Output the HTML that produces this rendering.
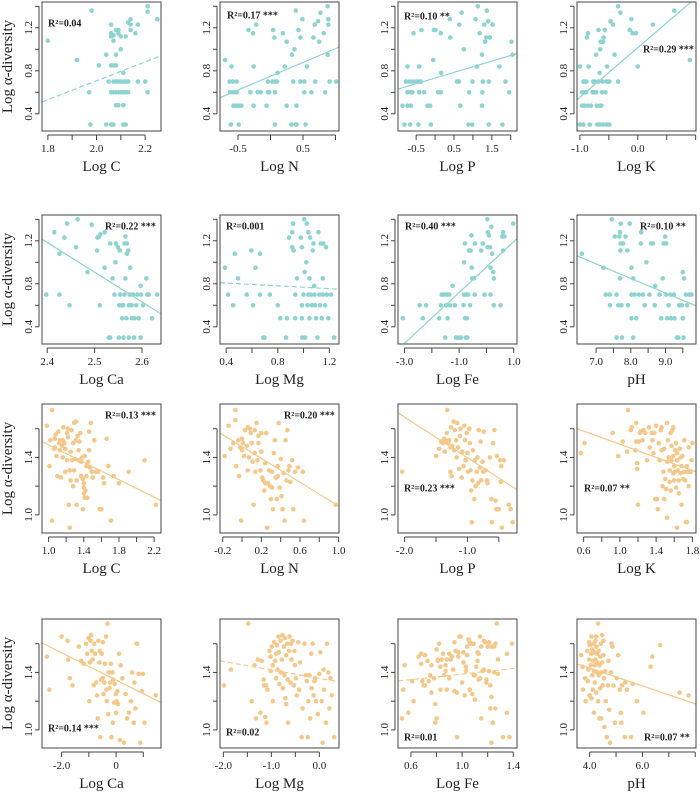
<!DOCTYPE html>
<html><head><meta charset="utf-8"><title>Log alpha-diversity scatter panels</title>
<style>
html,body{margin:0;padding:0;background:#fff;}
svg{display:block;font-family:"Liberation Serif",serif;}
</style></head>
<body>
<svg id="chart" width="700" height="793" viewBox="0 0 700 793" xmlns="http://www.w3.org/2000/svg"></svg>
<script>
// ---- data (one pair of arrays per panel) ----
const c1x=[1.80,1.92,1.98,2.01,1.97,1.975,2.04,2.06,2.07,2.11,2.12,2.04,2.06,2.06,2.06,2.07,2.07,2.08,2.09,2.09,2.10,2.08,2.06,2.07,2.08,2.10,2.05,2.07,2.08,2.09,2.10,2.11,2.12,2.13,2.06,2.07,2.08,2.09,2.10,2.11,2.12,2.13,2.08,2.09,2.11,2.11,2.12,2.13,2.14,2.14,2.14,2.16,2.17,2.17,2.20,2.21,2.21,2.21,2.25];
const c1y=[1.08,0.90,1.36,0.85,0.60,0.30,0.30,0.30,0.30,0.30,0.30,0.95,1.23,1.15,1.12,1.08,1.13,1.18,1.18,1.15,1.12,0.95,0.85,0.85,0.85,1.0,0.70,0.70,0.70,0.70,0.70,0.70,0.70,0.70,0.60,0.60,0.60,0.60,0.60,0.60,0.60,0.60,0.48,0.48,0.48,0.78,1.12,1.25,1.28,1.23,1.18,1.15,1.23,0.70,0.70,0.60,1.35,1.40,1.28];
const c2x=[-0.70,-0.63,-0.58,-0.60,-0.62,-0.57,-0.52,-0.61,-0.49,-0.57,-0.53,-0.49,-0.45,-0.52,-0.34,-0.27,-0.22,-0.31,-0.26,-0.26,-0.20,-0.15,-0.06,-0.04,-0.04,-0.02,0.03,0.04,0.06,0.07,0.07,0.07,0.11,0.10,0.19,0.25,0.22,0.25,0.33,0.37,0.32,0.39,0.35,0.39,0.40,0.40,0.43,0.46,0.46,0.52,0.49,0.52,0.54,0.56,0.63,0.66,0.68,0.73,0.69,0.75,0.77,0.82,0.84,0.88,0.89,0.89,0.88,0.91,1.01];
const c2y=[0.90,0.70,0.70,0.84,0.60,0.60,0.60,0.30,0.30,0.475,0.475,0.475,0.475,0.70,1.18,1.15,1.23,0.60,0.84,0.475,0.60,0.60,0.475,0.60,0.70,0.60,0.70,1.18,1.11,0.70,0.60,0.30,0.78,0.70,1.15,1.07,0.84,0.475,0.95,1.0,0.30,0.30,0.70,1.36,0.475,0.30,1.18,1.11,0.70,0.70,1.28,0.60,0.30,0.84,0.60,1.11,1.23,1.26,0.70,1.07,1.34,1.15,0.60,0.95,1.23,1.28,1.40,0.70,0.70];
const c3x=[-0.86,-0.73,-0.77,-0.68,-0.60,-0.51,-0.42,-0.73,-0.64,-0.60,-0.73,-0.64,-0.81,-0.66,-0.57,-0.48,-0.38,-0.42,-0.42,-0.44,-0.36,-0.29,-0.20,-0.13,-0.11,-0.05,-0.03,0.01,0.08,0.15,0.15,0.16,0.39,0.40,0.58,0.63,0.64,0.67,0.70,0.76,0.90,0.88,0.98,0.99,1.07,1.11,1.18,1.24,1.25,1.24,1.26,1.30,1.32,1.35,1.37,1.40,1.42,1.42,1.45,1.52,1.70,1.78,1.86,1.96,2.02,2.05,1.13];
const c3y=[0.475,0.84,0.70,0.70,0.70,0.70,0.70,0.60,0.60,0.60,0.475,0.475,0.30,0.30,1.15,0.70,0.70,0.84,0.60,0.30,1.18,0.60,0.475,0.475,0.30,0.90,1.18,1.18,0.60,0.60,1.15,0.78,1.28,1.11,0.70,0.70,1.23,0.475,1.34,1.0,0.60,0.30,0.30,0.70,1.28,0.84,1.15,0.95,0.60,0.475,0.70,1.23,1.07,1.11,1.36,1.26,0.70,0.30,1.11,1.23,0.84,0.30,0.70,0.60,1.07,0.95,1.40];
const c4x=[-1.0,-1.0,-0.96,-0.94,-0.94,-0.91,-0.89,-0.91,-0.89,-0.88,-0.86,-0.85,-0.83,-0.81,-0.77,-0.74,-0.72,-0.71,-0.72,-0.68,-0.68,-0.66,-0.65,-0.64,-0.62,-0.61,-0.60,-0.59,-0.57,-0.56,-0.54,-0.54,-0.53,-0.51,-0.49,-0.49,-0.47,-0.43,-0.40,-0.34,-0.34,-0.30,-0.14,-0.11,-0.09,-0.03,0.0,0.26,0.63,0.90,-0.96,-0.92,-0.86,-0.78,-0.75,-0.70,-0.66,-0.60,-0.65,-0.63];
const c4y=[0.84,0.30,0.475,0.30,0.70,0.70,0.70,0.60,0.60,1.11,1.15,0.84,0.30,0.475,0.70,0.70,0.60,0.475,0.95,1.18,0.70,0.78,1.0,1.07,0.60,0.70,1.07,1.11,1.18,0.60,0.70,0.30,0.84,0.70,0.70,0.30,1.26,1.23,0.95,0.70,1.40,1.34,1.18,1.28,1.15,1.15,0.84,1.23,1.36,0.90,0.60,0.475,0.475,0.60,0.60,0.30,0.30,0.30,0.475,0.475];
const c5x=[2.398,2.415,2.426,2.426,2.436,2.442,2.447,2.461,2.464,2.485,2.494,2.505,2.506,2.509,2.511,2.512,2.521,2.521,2.533,2.538,2.542,2.544,2.545,2.549,2.553,2.552,2.554,2.530,2.533,2.551,2.558,2.558,2.560,2.561,2.563,2.563,2.565,2.565,2.567,2.568,2.568,2.571,2.572,2.572,2.574,2.575,2.578,2.579,2.581,2.583,2.584,2.588,2.590,2.593,2.597,2.597,2.598,2.602,2.609,2.611,2.614,2.621,2.632];
const c5y=[0.70,1.28,1.08,0.70,1.23,1.36,0.60,1.14,1.40,0.91,1.35,1.11,1.23,1.24,0.60,1.26,1.28,0.95,1.175,0.85,0.70,1.0,1.175,1.14,1.11,0.60,0.70,0.30,0.30,0.30,0.48,0.60,0.60,0.30,0.70,1.175,1.24,0.85,0.48,1.08,1.175,1.11,0.60,0.30,0.70,0.95,0.60,0.48,0.70,0.30,0.48,0.60,0.70,0.48,0.78,0.30,0.70,0.60,0.85,0.70,0.70,0.48,0.70];
const c6x=[0.39,0.415,0.454,0.467,0.492,0.559,0.595,0.608,0.628,0.662,0.662,0.687,0.697,0.738,0.80,0.82,0.872,0.864,0.887,0.913,0.913,0.918,0.923,0.936,0.949,0.936,0.979,0.987,0.987,0.987,0.99,1.0,1.005,1.008,1.013,1.021,1.026,1.031,1.038,1.038,1.046,1.046,1.051,1.056,1.064,1.072,1.077,1.082,1.085,1.09,1.097,1.108,1.115,1.123,1.128,1.133,1.141,1.149,1.149,1.154,1.167,1.174,1.18,1.192,1.213,1.238];
const c6y=[0.95,0.70,0.60,1.08,0.85,0.70,1.11,0.60,0.95,1.08,0.70,0.30,0.30,0.70,0.60,0.48,0.48,0.30,1.23,1.28,1.14,1.36,1.11,0.70,0.85,0.48,1.23,1.14,0.60,0.48,0.30,0.70,1.40,0.91,0.30,1.0,1.36,0.60,1.28,0.70,0.85,0.48,1.23,0.70,0.60,1.11,1.175,0.78,0.70,0.60,0.48,0.30,1.28,0.70,0.60,1.175,0.48,0.85,0.70,1.175,0.60,1.14,0.70,0.48,0.70,0.30];
const c7x=[-3.06,-2.45,-2.33,-2.21,-1.73,-1.67,-1.64,-1.55,-1.51,-1.48,-1.45,-1.42,-1.36,-1.33,-1.24,-1.16,-1.12,-1.04,-0.94,-0.84,-0.82,-0.82,-0.79,-0.78,-0.76,-0.72,-0.72,-0.70,-0.67,-0.64,-0.60,-0.58,-0.55,-0.54,-0.52,-0.45,-0.43,-0.42,-0.19,-0.13,-0.07,0.03,0.05,0.05,0.09,0.13,0.15,0.15,0.18,0.21,0.25,0.27,0.27,0.52,0.58,0.61,0.61,0.66,0.98];
const c7y=[0.48,0.60,0.48,0.60,0.48,0.60,0.70,0.70,0.30,0.60,0.70,0.48,0.70,0.60,0.78,0.60,0.30,0.30,0.30,0.60,1.0,0.70,1.175,0.48,0.30,0.70,0.48,0.30,0.70,1.11,0.60,1.11,1.25,0.95,0.85,0.85,0.70,1.175,1.11,1.175,0.70,1.40,1.28,1.14,1.25,1.14,0.70,0.95,1.33,1.08,0.91,0.85,0.60,0.60,1.24,1.28,1.11,1.24,1.36];
const c8x=[6.59,7.21,7.28,7.40,7.40,7.45,7.54,7.59,7.59,7.64,7.67,7.69,7.69,7.70,7.71,7.71,7.73,7.75,7.78,7.85,7.90,7.92,7.97,8.02,8.02,8.02,8.07,8.07,8.11,8.16,8.23,8.29,8.30,8.35,8.40,8.45,8.54,8.59,8.64,8.69,8.70,8.83,8.88,8.92,8.95,8.99,9.02,9.02,9.05,9.09,9.14,9.16,9.24,9.26,9.33,9.37,9.40,9.47,9.50,9.50,9.52,9.54,9.59,9.62,9.69,9.75];
const c8y=[1.08,0.95,0.70,0.70,0.60,1.40,1.24,0.70,0.30,0.60,1.24,0.85,1.28,1.11,1.175,1.36,0.60,0.30,1.175,1.24,1.11,0.60,1.36,0.95,0.70,0.48,0.85,0.30,0.70,0.48,0.70,1.175,1.28,0.70,0.60,1.0,0.70,1.175,1.175,0.60,0.78,0.70,0.48,0.85,1.175,1.24,1.175,0.70,0.48,0.60,0.70,0.48,0.70,0.48,0.30,0.30,0.60,0.60,0.91,0.48,0.30,0.85,0.70,0.60,0.70,0.70];
const c9x=[0.98,1.01,1.02,1.04,1.04,1.06,1.07,1.07,1.08,1.09,1.10,1.11,1.12,1.13,1.13,1.14,1.15,1.16,1.16,1.17,1.18,1.19,1.19,1.21,1.21,1.22,1.22,1.23,1.24,1.24,1.25,1.25,1.26,1.27,1.28,1.28,1.29,1.29,1.30,1.31,1.31,1.32,1.32,1.33,1.34,1.34,1.35,1.36,1.37,1.37,1.38,1.39,1.39,1.40,1.40,1.40,1.41,1.41,1.42,1.43,1.43,1.44,1.45,1.46,1.46,1.47,1.48,1.49,1.50,1.52,1.54,1.56,1.58,1.60,1.62,1.63,1.66,1.68,1.71,1.74,1.80,1.91,2.09,2.22];
const c9y=[1.62,1.34,1.52,1.73,0.96,1.46,1.53,1.47,1.56,1.41,1.27,1.58,1.50,1.52,1.45,1.26,1.48,1.52,1.40,1.61,1.50,1.30,1.46,1.57,1.38,1.60,1.54,1.07,1.31,0.91,1.44,1.24,1.59,1.38,1.20,1.50,1.64,1.31,1.39,1.65,1.52,1.07,1.24,1.55,1.38,1.45,1.51,1.57,1.27,1.37,1.40,1.04,1.25,1.22,1.19,1.15,1.41,1.12,1.17,1.34,1.27,1.12,1.37,1.58,1.45,1.33,1.64,1.30,1.26,1.52,1.30,1.30,1.04,1.04,1.26,1.22,1.53,1.34,0.96,1.27,1.22,1.30,1.38,1.07];
const c10x=[-0.18,-0.14,-0.12,-0.09,-0.07,-0.07,-0.06,-0.04,-0.03,-0.02,-0.01,0.0,0.0,0.01,0.02,0.03,0.05,0.06,0.06,0.07,0.08,0.09,0.10,0.11,0.12,0.13,0.13,0.14,0.15,0.16,0.17,0.17,0.19,0.20,0.20,0.21,0.22,0.23,0.24,0.24,0.25,0.26,0.27,0.28,0.29,0.30,0.31,0.31,0.32,0.33,0.34,0.35,0.36,0.37,0.37,0.38,0.39,0.40,0.41,0.42,0.43,0.44,0.45,0.46,0.47,0.48,0.49,0.50,0.52,0.53,0.55,0.58,0.63,0.64,0.97];
const c10y=[1.41,1.62,1.46,1.50,1.73,1.66,1.34,1.52,1.27,1.47,0.96,1.53,1.45,1.50,1.41,1.59,1.48,1.31,1.61,1.40,1.60,1.57,1.50,1.37,1.07,1.43,1.59,1.30,1.64,1.38,1.55,1.50,1.31,1.57,1.44,1.26,1.24,1.17,1.36,1.22,1.57,0.91,1.22,1.31,1.20,1.11,1.30,1.19,1.04,1.43,1.52,1.26,1.11,1.34,1.27,1.64,1.19,1.39,1.13,1.04,1.29,0.96,1.52,1.24,1.59,1.31,1.34,1.23,1.38,1.04,1.30,1.33,1.30,0.96,1.07];
const c11x=[-2.04,-1.50,-1.45,-1.42,-1.39,-1.37,-1.36,-1.34,-1.33,-1.32,-1.31,-1.29,-1.27,-1.27,-1.26,-1.25,-1.24,-1.22,-1.21,-1.20,-1.18,-1.17,-1.16,-1.15,-1.13,-1.12,-1.11,-1.09,-1.08,-1.06,-1.05,-1.04,-1.03,-1.01,-1.0,-0.99,-0.97,-0.96,-0.95,-0.94,-0.93,-0.92,-0.91,-0.89,-0.88,-0.87,-0.85,-0.84,-0.83,-0.82,-0.80,-0.79,-0.78,-0.76,-0.75,-0.74,-0.71,-0.69,-0.68,-0.64,-0.62,-0.61,-0.59,-0.57,-0.55,-0.54,-0.53,-0.52,-0.50,-0.48,-0.47,-0.46,-0.45,-0.42,-0.34,-0.31,-0.28];
const c11y=[1.30,1.41,1.46,1.51,1.50,1.53,1.44,1.52,1.57,1.73,1.50,1.52,1.30,1.47,1.61,1.27,1.48,1.65,1.45,1.59,1.52,1.40,1.64,1.47,1.32,1.55,1.60,1.26,1.44,1.34,1.62,1.52,1.38,1.57,1.43,1.30,1.60,1.50,1.31,1.17,0.95,1.24,1.45,1.11,1.38,1.20,1.30,1.40,1.22,1.59,1.33,1.51,1.24,1.37,1.30,1.58,1.31,1.24,1.22,1.40,1.11,0.95,1.50,1.59,1.10,1.04,1.41,1.04,1.04,1.38,1.23,1.34,0.91,1.38,1.07,1.04,0.95];
const c12x=[0.57,0.61,0.92,0.98,1.03,1.08,1.09,1.12,1.13,1.17,1.18,1.18,1.19,1.19,1.20,1.21,1.22,1.23,1.25,1.26,1.28,1.30,1.32,1.33,1.35,1.36,1.37,1.38,1.39,1.40,1.41,1.42,1.43,1.44,1.45,1.46,1.46,1.47,1.48,1.49,1.49,1.50,1.51,1.52,1.52,1.52,1.53,1.54,1.55,1.55,1.56,1.56,1.57,1.57,1.58,1.59,1.59,1.59,1.60,1.60,1.61,1.61,1.62,1.62,1.63,1.63,1.63,1.64,1.65,1.65,1.66,1.67,1.67,1.68,1.68,1.69,1.70,1.71,1.71,1.72,1.73,1.74,1.74,1.75,1.76,1.76,1.78,1.79,1.80];
const c12y=[1.43,1.50,1.57,1.41,1.51,1.44,1.73,1.59,1.61,1.45,1.64,1.51,1.36,1.32,1.07,1.51,1.57,1.58,1.52,1.59,1.57,1.38,1.61,1.47,1.57,1.52,1.43,1.57,1.11,1.62,1.11,1.04,1.50,1.38,1.59,1.45,1.61,1.20,1.30,1.11,1.46,1.25,1.18,1.37,0.98,1.64,1.52,1.40,1.31,1.23,1.57,1.17,1.38,1.48,1.59,1.29,1.41,1.61,1.24,1.34,1.45,1.30,1.50,1.19,0.91,1.38,1.43,1.31,1.24,1.15,1.46,1.40,1.29,1.07,1.34,1.41,1.25,1.30,1.52,1.24,0.95,1.34,0.95,1.30,1.47,1.20,1.30,1.38,1.50];
const c13x=[-2.54,-2.45,-2.0,-1.78,-1.76,-1.70,-1.60,-1.37,-1.28,-1.18,-1.10,-1.06,-1.01,-0.98,-0.96,-0.94,-0.92,-0.89,-0.86,-0.82,-0.80,-0.77,-0.73,-0.70,-0.67,-0.65,-0.61,-0.60,-0.58,-0.55,-0.53,-0.49,-0.48,-0.46,-0.43,-0.41,-0.37,-0.36,-0.34,-0.31,-0.29,-0.27,-0.24,-0.22,-0.19,-0.17,-0.13,-0.12,-0.10,-0.07,-0.05,-0.01,0.0,0.02,0.05,0.07,0.11,0.14,0.17,0.23,0.29,0.35,0.41,0.47,0.59,0.55,0.65,0.67,0.71,0.75,0.77,0.83,0.89,0.95,0.99,1.04,1.46];
const c13y=[1.51,1.28,1.65,1.62,1.49,1.36,1.31,1.58,1.48,1.46,1.60,1.53,1.64,1.20,1.47,1.62,1.66,1.55,1.49,1.31,1.60,1.53,1.33,1.24,1.08,1.62,1.47,1.55,0.95,1.35,1.53,1.36,1.61,1.25,1.33,1.46,1.65,1.28,1.20,1.74,1.11,1.40,1.29,1.33,1.46,0.95,1.40,1.05,1.35,1.19,1.32,1.25,1.12,1.20,1.27,1.18,1.53,0.93,1.45,1.36,0.91,1.25,1.08,1.12,1.40,1.20,1.05,1.33,1.15,1.60,1.60,1.39,0.91,1.27,1.39,1.05,1.24];
const c14x=[-1.99,-1.84,-1.48,-1.41,-1.35,-1.32,-1.28,-1.23,-1.20,-1.16,-1.15,-1.13,-1.11,-1.10,-1.08,-1.04,-1.02,-1.01,-0.99,-0.97,-0.97,-0.94,-0.92,-0.90,-0.90,-0.88,-0.87,-0.85,-0.84,-0.83,-0.81,-0.80,-0.78,-0.77,-0.76,-0.74,-0.73,-0.72,-0.71,-0.69,-0.69,-0.67,-0.66,-0.65,-0.63,-0.62,-0.60,-0.59,-0.58,-0.56,-0.53,-0.52,-0.51,-0.49,-0.47,-0.44,-0.42,-0.40,-0.37,-0.35,-0.31,-0.28,-0.26,-0.24,-0.23,-0.21,-0.19,-0.17,-0.16,-0.14,-0.12,-0.10,-0.09,-0.07,-0.03,0.0,0.02,0.05,0.07,0.09,0.10,0.14,0.16,0.19,0.21,0.23,0.26,0.31];
const c14y=[1.31,1.42,1.74,1.20,1.45,1.08,1.49,1.12,1.48,1.35,1.31,1.09,1.31,1.05,1.28,1.55,1.51,1.41,1.58,1.20,1.45,1.61,1.48,1.53,1.36,1.59,1.42,1.65,1.54,1.32,1.62,1.40,1.49,1.66,1.29,1.58,1.38,1.64,1.22,1.52,1.18,1.60,1.35,1.05,1.55,1.65,1.33,1.60,1.49,1.62,1.31,1.55,1.45,1.36,1.24,1.61,1.28,1.47,0.95,1.15,1.60,1.38,1.34,0.95,1.20,1.38,1.08,1.53,1.29,1.60,1.24,1.34,1.36,1.20,1.11,1.39,1.54,1.20,0.91,1.42,1.28,1.05,1.60,1.40,1.15,1.36,1.24,0.95];
const c15x=[0.53,0.54,0.55,0.58,0.61,0.62,0.66,0.68,0.68,0.69,0.70,0.71,0.71,0.73,0.74,0.75,0.76,0.76,0.78,0.79,0.79,0.80,0.80,0.81,0.81,0.82,0.83,0.83,0.84,0.85,0.86,0.87,0.87,0.88,0.88,0.90,0.90,0.91,0.92,0.93,0.94,0.94,0.95,0.96,0.96,0.97,0.97,0.98,0.99,1.0,1.01,1.01,1.02,1.03,1.03,1.04,1.04,1.05,1.06,1.06,1.07,1.08,1.09,1.09,1.10,1.10,1.11,1.12,1.12,1.13,1.13,1.14,1.14,1.15,1.15,1.16,1.17,1.17,1.18,1.19,1.19,1.20,1.21,1.21,1.22,1.22,1.23,1.23,1.23,1.24,1.25,1.25,1.26,1.26,1.27,1.28,1.28,1.32,1.35,1.35,1.37,1.39];
const c15y=[1.08,1.28,1.45,1.12,1.34,1.20,1.51,1.46,1.53,1.34,1.31,1.31,1.52,1.48,1.34,1.38,1.45,1.26,1.36,1.05,1.18,1.08,1.56,1.49,1.48,1.60,1.44,1.28,1.49,1.53,1.38,1.41,1.45,1.28,1.49,1.36,1.53,1.49,1.51,1.42,1.61,1.27,1.55,1.26,0.95,1.51,1.54,1.65,1.65,1.33,1.47,1.54,1.24,1.41,1.44,1.52,1.58,1.63,1.28,1.61,1.60,1.25,1.60,1.38,1.21,1.38,1.44,1.48,1.54,1.35,1.53,1.36,1.65,1.08,1.58,1.41,1.62,1.42,1.61,1.33,1.35,1.58,1.61,1.41,1.31,1.15,1.58,0.91,1.23,1.05,1.40,1.58,1.15,1.60,1.74,1.39,1.49,0.95,1.53,1.12,0.95,1.60];
const c16x=[3.68,3.73,3.75,3.83,3.85,3.91,3.93,3.95,3.98,3.98,4.0,4.01,4.04,4.05,4.07,4.07,4.10,4.10,4.12,4.12,4.15,4.16,4.16,4.17,4.20,4.20,4.22,4.22,4.25,4.25,4.26,4.28,4.28,4.29,4.32,4.32,4.34,4.34,4.37,4.37,4.40,4.40,4.42,4.44,4.44,4.47,4.47,4.49,4.52,4.53,4.54,4.56,4.59,4.61,4.65,4.69,4.71,4.74,4.77,4.81,4.83,4.86,4.90,4.96,5.02,5.08,5.14,5.18,5.20,5.23,5.33,5.35,5.42,5.57,5.63,5.79,6.04,6.31,6.37,6.67,7.41,7.75];
const c16y=[1.52,1.44,1.28,1.36,1.20,1.55,1.34,1.42,1.61,1.49,1.24,1.59,1.45,1.53,1.65,1.22,1.56,1.38,1.48,1.28,1.60,1.12,1.41,1.54,1.45,1.33,1.49,1.62,1.65,1.26,1.58,1.40,1.53,1.47,1.74,1.20,1.55,1.38,1.08,1.45,1.51,1.29,1.60,1.08,1.40,1.66,1.47,1.31,1.52,1.62,1.36,1.02,1.41,1.20,0.95,1.31,1.48,1.14,0.91,1.40,1.60,1.58,1.31,1.05,1.36,1.52,1.28,1.12,1.05,1.31,0.95,1.33,1.28,0.95,1.32,1.20,1.12,1.44,1.51,1.59,1.26,1.24];
// regression fitted values at left / right edge of each panel's x-domain
const fitStart=[0.51,0.55,0.63,0.53,1.215,0.81,0.19,1.06,1.51,1.57,1.71,1.60,1.605,1.48,1.34,1.46];
const fitEnd=[0.94,1.02,0.96,1.48,0.52,0.75,1.22,0.595,1.10,1.06,1.175,1.30,1.19,1.335,1.43,1.18];
const r2Text=["R²=0.04","R²=0.17 ***","R²=0.10 **","R²=0.29 ***","R²=0.22 ***","R²=0.001","R²=0.40 ***","R²=0.10 **","R²=0.13 ***","R²=0.20 ***","R²=0.23 ***","R²=0.07 **","R²=0.14 ***","R²=0.02","R²=0.01","R²=0.07 **"];
const xTitles=["Log C","Log N","Log P","Log K","Log Ca","Log Mg","Log Fe","pH","Log C","Log N","Log P","Log K","Log Ca","Log Mg","Log Fe","pH"];
const xTicks=[[1.8,1.9,2.0,2.1,2.2],[-0.5,0,0.5,1.0],[-0.5,0,0.5,1,1.5,2],[-1,-0.5,0,0.5,1],[2.4,2.5,2.6],[0.4,0.6,0.8,1.0,1.2],[-3,-2,-1,0,1],[7,7.5,8,8.5,9,9.5],[1.0,1.2,1.4,1.6,1.8,2.0,2.2],[-0.2,0,0.2,0.4,0.6,0.8,1.0],[-2,-1.5,-1,-0.5],[0.6,0.8,1.0,1.2,1.4,1.6,1.8],[-2,-1,0,1],[-2,-1.5,-1,-0.5,0],[0.6,0.8,1.0,1.2,1.4],[4,5,6,7,8]];
const xTickLabels=[["1.8","2.0","2.2"],["-0.5","0.5"],["-0.5","0.5","1.5"],["-1.0","0.0"],["2.4","2.5","2.6"],["0.4","0.8","1.2"],["-3.0","-1.0","1.0"],["7.0","8.0","9.0"],["1.0","1.4","1.8","2.2"],["-0.2","0.2","0.6","1.0"],["-2.0","-1.0"],["0.6","1.0","1.4","1.8"],["-2.0","0"],["-2.0","-1.0","0.0"],["0.6","1.0","1.4"],["4.0","6.0"]];
const xMin=[1.776,-0.777,-0.98,-1.05,2.389,0.352,-3.24,6.45,0.925,-0.228,-2.105,0.527,-2.72,-2.07,0.499,3.52];
const xMax=[2.265,1.054,2.165,1.006,2.640,1.275,1.12,9.88,2.278,1.004,-0.21,1.84,1.65,0.41,1.429,8.03];
const yTicksBlue=[0.4,0.6,0.8,1.0,1.2,1.4];
const yLabelsBlue=["0.4","0.8","1.2"];
const yTicksOrange=[1.0,1.2,1.4,1.6];
const yLabelsOrange=["1.0","1.4"];
const seriesX=[c1x,c2x,c3x,c4x,c5x,c6x,c7x,c8x,c9x,c10x,c11x,c12x,c13x,c14x,c15x,c16x];
const seriesY=[c1y,c2y,c3y,c4y,c5y,c6y,c7y,c8y,c9y,c10y,c11y,c12y,c13y,c14y,c15y,c16y];

// ---- layout ----
const NS="http://www.w3.org/2000/svg";
const svg=document.getElementById('chart');
const colLeft=[42,220,398,577], rowTop=[2,215,404,619], W=119, H=129;
const dashed=[true,false,false,false,false,true,false,false,false,false,false,false,false,true,true,false];
const r2Pos=[[6,21],[7,13],[6,14],[66,47],[63,11],[6,11],[7,11],[63,11],[63,11],[64,11],[6,84],[7,84],[6,109],[6,113],[6,118],[67,118]];
function mk(tag,attrs,parent){const e=document.createElementNS(NS,tag);for(const k in attrs)e.setAttribute(k,attrs[k]);(parent||svg).appendChild(e);return e;}

for(let i=0;i<16;i++){
  const row=Math.floor(i/4), col=i%4;
  const L=colLeft[col], T=rowTop[row];
  const blue=row<2;
  const col1=blue?'#8dd3d0':'#f3c88a';
  const yMin=blue?0.24:0.874, yMax=blue?1.44:1.772;
  const sx=v=>L+(v-xMin[i])/(xMax[i]-xMin[i])*W;
  const sy=v=>T+H-(v-yMin)/(yMax-yMin)*H;
  const g=mk('g',{});
  
  
  const cp=mk('clipPath',{id:'cp'+i},g);
  mk('rect',{x:L,y:T,width:W,height:H},cp);
  // points
  const pg=mk('g',{},g);
  
  
  const xs=seriesX[i], ys=seriesY[i], n=Math.min(xs.length,ys.length);
  for(let k=0;k<n;k++){
    const c=mk('circle',{cx:sx(xs[k]).toFixed(1),cy:sy(ys[k]).toFixed(1),r:2.3,fill:col1},pg);
    
    
  }
  // regression line
  const ln=mk('line',{x1:sx(xMin[i]),y1:sy(fitStart[i]),x2:sx(xMax[i]),y2:sy(fitEnd[i]),stroke:col1,'stroke-width':1.2,'clip-path':'url(#cp'+i+')'},g);
  if(dashed[i]) ln.setAttribute('stroke-dasharray','5,3');
  
  
  // box
  const bx=mk('rect',{x:L,y:T,width:W,height:H,fill:'none',stroke:'#444','stroke-width':1},g);
  
  
  // x axis
  const xt=xTicks[i];
  const ax=mk('line',{x1:sx(xt[0]),x2:sx(xt[xt.length-1]),y1:T+H+4,y2:T+H+4,stroke:'#444','stroke-width':1},g);
  
  
  xt.forEach(v=>{const t=mk('line',{x1:sx(v),x2:sx(v),y1:T+H+4,y2:T+H+9,stroke:'#444','stroke-width':1},g);
    
    });
  xTickLabels[i].forEach(s=>{const t=mk('text',{x:sx(parseFloat(s)),y:T+H+21,'text-anchor':'middle','font-size':11,fill:'#222'},g);t.textContent=s;
    
    });
  const xl=mk('text',{x:L+W/2,y:T+H+40,'text-anchor':'middle','font-size':15,fill:'#222'},g);xl.textContent=xTitles[i];
  
  
  // y axis
  const yt=blue?yTicksBlue:yTicksOrange, yl=blue?yLabelsBlue:yLabelsOrange;
  const ay=mk('line',{x1:L-3,x2:L-3,y1:sy(yt[0]),y2:sy(yt[yt.length-1]),stroke:'#444','stroke-width':1},g);
  
  
  yt.forEach(v=>{const t=mk('line',{x1:L-3,x2:L-7,y1:sy(v),y2:sy(v),stroke:'#444','stroke-width':1},g);
    
    });
  yl.forEach(s=>{const yy=sy(parseFloat(s));const t=mk('text',{x:L-10,y:yy,'text-anchor':'middle','font-size':11,fill:'#222',transform:'rotate(-90 '+(L-10)+' '+yy+')'},g);t.textContent=s;
    
    });
  if(col===0){
    const cy=T+H/2;
    const t=mk('text',{x:12,y:cy,'text-anchor':'middle','font-size':15,fill:'#222',transform:'rotate(-90 12 '+cy+')'},g);t.textContent='Log α-diversity';
    
    
  }
  // R2 annotation
  const r=mk('text',{x:L+r2Pos[i][0],y:T+r2Pos[i][1]+3.5,'font-size':10,'font-weight':'bold',fill:'#222'},g);r.textContent=r2Text[i];
  
  
}
</script>
</body></html>
